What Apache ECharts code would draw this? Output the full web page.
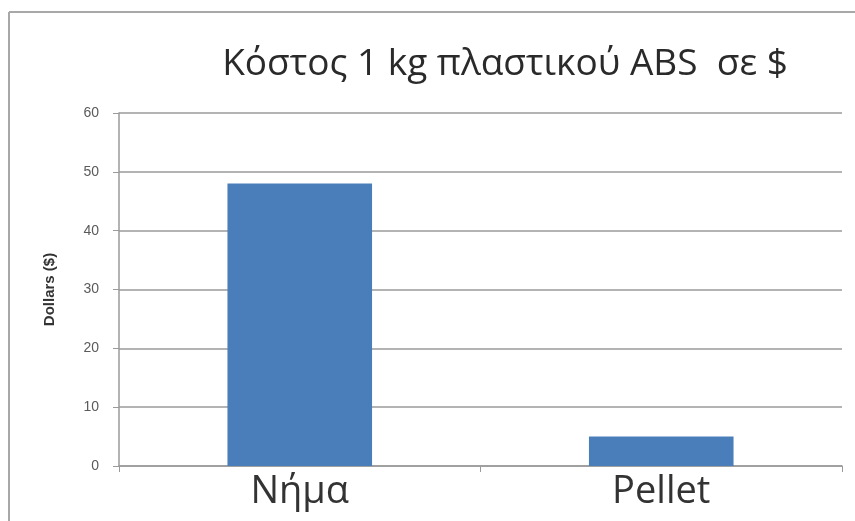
<!DOCTYPE html>
<html><head><meta charset="utf-8">
<script src="https://cdn.jsdelivr.net/npm/echarts@6/dist/echarts.min.js"></script>
<style>html,body{margin:0;padding:0;background:#fff}#c{width:855px;height:521px}</style>
</head><body><div id="c"></div>
<script>
const title = 'Κόστος 1 kg πλαστικού ABS  σε $';
const categories = ['Νήμα', 'Pellet'];
const values = [48, 5];
const yName = 'Dollars ($)';
const yMin = 0, yMax = 60, yInterval = 10;

const chart = echarts.init(document.getElementById('c'), null, {renderer: 'canvas'});
chart.setOption({
  animation: false,
  backgroundColor: '#fff',
  title: {
    text: title, left: 500, top: 41, textAlign: 'center',
    textStyle: {fontFamily: 'Open Sans', fontSize: 37, fontWeight: 'normal', color: '#2a2a2a'}
  },
  graphic: [
    {type: 'line', shape: {x1: 9, y1: 12, x2: 855, y2: 12}, style: {stroke: '#a8a8a8', lineWidth: 2}},
    {type: 'line', shape: {x1: 9, y1: 12, x2: 9, y2: 521}, style: {stroke: '#a8a8a8', lineWidth: 2}}
  ],
  grid: {left: 119, right: 13, top: 113, bottom: 55},
  xAxis: {
    type: 'category', data: categories,
    axisLine: {lineStyle: {color: '#9a9a9a', width: 1.5}},
    axisTick: {show: true, alignWithLabel: false, length: 6, lineStyle: {color: '#9a9a9a'}},
    axisLabel: {fontFamily: 'Open Sans', fontSize: 38, color: '#333', margin: 7}
  },
  yAxis: {
    type: 'value', min: yMin, max: yMax, interval: yInterval,
    name: yName, nameLocation: 'middle', nameGap: 62, nameRotate: 90,
    nameTextStyle: {fontFamily: 'Liberation Sans', fontSize: 15, fontWeight: 'bold', color: '#333'},
    axisLine: {show: true, lineStyle: {color: '#9a9a9a', width: 1.5}},
    axisTick: {show: true, length: 6, lineStyle: {color: '#9a9a9a'}},
    axisLabel: {fontFamily: 'Liberation Sans', fontSize: 14, color: '#5a5a5a', margin: 20},
    splitLine: {lineStyle: {color: '#9a9a9a', width: 1.5}}
  },
  series: [{
    type: 'bar', data: values, barWidth: '40%',
    itemStyle: {color: '#4a7ebb'}
  }]
});
</script></body></html>
